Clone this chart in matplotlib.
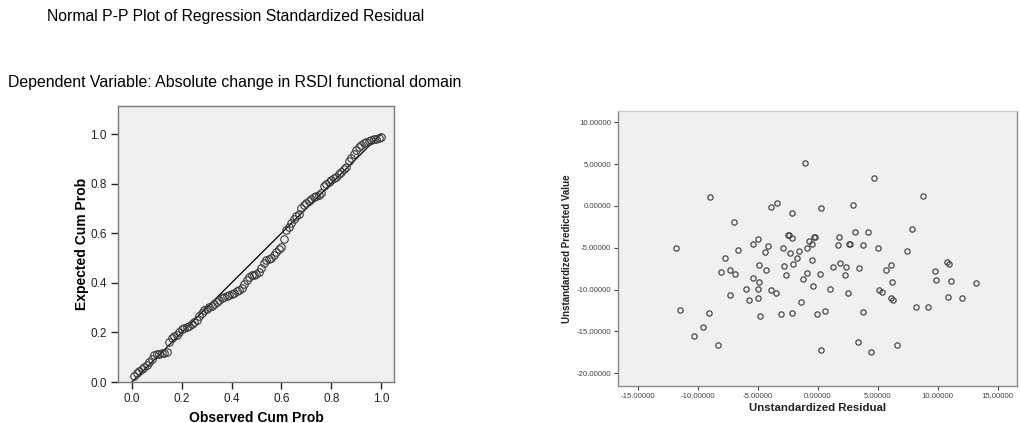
import numpy as np
import matplotlib
matplotlib.use("Agg")
import matplotlib.pyplot as plt

plt.rcParams["font.family"] = ["Liberation Sans", "DejaVu Sans"]

W, H = 1021, 423

# --- Normal P-P plot (observed vs expected cumulative probability) ---
pp_observed = [
    0.01, 0.02, 0.03, 0.04, 0.05, 0.06, 0.07, 0.08, 0.09, 0.10,
    0.11, 0.12, 0.13, 0.14, 0.15, 0.16, 0.17, 0.18, 0.19, 0.20,
    0.21, 0.22, 0.23, 0.24, 0.25, 0.26, 0.27, 0.28, 0.29, 0.30,
    0.31, 0.32, 0.33, 0.34, 0.35, 0.36, 0.37, 0.38, 0.39, 0.40,
    0.41, 0.42, 0.43, 0.44, 0.45, 0.46, 0.47, 0.48, 0.49, 0.50,
    0.51, 0.52, 0.53, 0.54, 0.55, 0.56, 0.57, 0.58, 0.59, 0.60,
    0.61, 0.62, 0.63, 0.64, 0.65, 0.66, 0.67, 0.68, 0.69, 0.70,
    0.71, 0.72, 0.73, 0.74, 0.75, 0.76, 0.77, 0.78, 0.79, 0.80,
    0.81, 0.82, 0.83, 0.84, 0.85, 0.86, 0.87, 0.88, 0.89, 0.90,
    0.91, 0.92, 0.93, 0.94, 0.95, 0.96, 0.97, 0.98, 0.99, 1.00,
]
pp_expected = [
    0.025, 0.035, 0.045, 0.052, 0.060, 0.068, 0.080, 0.092, 0.108, 0.112,
    0.114, 0.116, 0.118, 0.120, 0.162, 0.178, 0.185, 0.190, 0.200, 0.212,
    0.218, 0.220, 0.226, 0.232, 0.240, 0.250, 0.265, 0.278, 0.290, 0.296,
    0.302, 0.308, 0.314, 0.322, 0.330, 0.338, 0.342, 0.348, 0.352, 0.356,
    0.360, 0.366, 0.372, 0.380, 0.395, 0.410, 0.422, 0.430, 0.432, 0.434,
    0.445, 0.460, 0.478, 0.490, 0.496, 0.500, 0.512, 0.524, 0.536, 0.545,
    0.578, 0.612, 0.625, 0.640, 0.656, 0.668, 0.678, 0.700, 0.712, 0.722,
    0.730, 0.738, 0.746, 0.752, 0.756, 0.762, 0.790, 0.800, 0.808, 0.816,
    0.822, 0.828, 0.838, 0.847, 0.858, 0.868, 0.893, 0.905, 0.921, 0.935,
    0.948, 0.955, 0.962, 0.968, 0.972, 0.976, 0.978, 0.980, 0.984, 0.988,
]
pp_ticks = [0.0, 0.2, 0.4, 0.6, 0.8, 1.0]

# --- residuals vs predicted scatter ---
resid = [
    -1.06, 4.69, -8.97, 8.81, -3.36, -3.89, 0.25, 2.92, -2.11, -7.00,
    7.86, 3.14, 4.22, -2.50, -2.40, -2.11, -0.31, -0.25, -0.69, -0.44,
    -0.92, 1.78, 1.69, 2.61, 2.68, 3.75, 5.03, 7.42, -11.83, -5.00,
    -5.42, -4.14, -4.36, -6.67, -2.89, -2.31, -1.53, -1.69, -0.47, -2.03,
    -2.81, -7.72, -4.92, -4.31, -7.31, -8.08, -6.89, -5.36, -4.89, -2.67,
    -0.92, 0.19, -1.22, -0.39, 1.31, 1.86, 2.33, 2.28, 3.47, 6.08,
    5.69, 6.17, 9.78, 9.86, 10.75, 10.97, 11.06, 13.22, 10.89, 12.03,
    8.17, 9.17, 5.11, 5.39, 6.08, 6.31, 2.50, 1.00, -6.00, -5.00,
    -3.89, -3.47, -7.31, -5.69, -4.97, -1.42, -11.50, -9.08, -4.83, -3.06,
    -2.14, -0.03, 0.58, 3.78, -9.53, -10.33, -8.28, 0.25, 3.36, 4.44,
    6.58,
]
predicted = [
    5.08, 3.32, 1.04, 1.24, 0.40, -0.08, -0.20, 0.08, -0.84, -1.96,
    -2.80, -3.08, -3.16, -3.44, -3.52, -3.80, -3.68, -3.72, -4.24, -4.52,
    -5.00, -3.72, -4.64, -4.56, -4.60, -4.72, -5.00, -5.36, -5.08, -3.92,
    -4.52, -4.80, -5.56, -5.28, -5.00, -5.64, -5.44, -6.24, -6.48, -6.92,
    -7.12, -6.20, -7.04, -7.60, -7.60, -7.88, -8.08, -8.60, -9.04, -8.24,
    -8.04, -8.12, -8.72, -9.56, -7.24, -6.76, -7.28, -8.20, -7.44, -7.04,
    -7.64, -9.12, -7.76, -8.80, -6.72, -6.92, -9.00, -9.16, -10.84, -11.00,
    -12.08, -12.12, -10.08, -10.32, -11.04, -11.24, -10.40, -9.96, -9.96, -9.96,
    -10.04, -10.44, -10.64, -11.28, -11.00, -11.52, -12.40, -12.84, -13.12, -12.88,
    -12.80, -12.96, -12.52, -12.72, -14.44, -15.60, -16.64, -17.16, -16.28, -17.40,
    -16.56,
]
res_xticks = [-15, -10, -5, 0, 5, 10, 15]
res_yticks = [10, 5, 0, -5, -10, -15, -20]


def px_axes(fig, left, top, right, bottom):
    return fig.add_axes([left / W, 1 - bottom / H, (right - left) / W, (bottom - top) / H])


fig = plt.figure(figsize=(W / 100, H / 100), dpi=100)
fig.patch.set_facecolor("white")

fig.text(47 / W, 1 - 17 / H, "Normal P-P Plot of Regression Standardized Residual",
         fontsize=11.3, ha="left", va="center")
fig.text(8 / W, 1 - 83 / H, "Dependent Variable: Absolute change in RSDI functional domain",
         fontsize=11.4, ha="left", va="center")

bg = "#f0f0f0"
frame = "#7a7a7a"

# left: P-P plot
ax = px_axes(fig, 118, 106, 394, 382)
ax.set_facecolor(bg)
ax.plot([0, 1], [0, 1], color="black", lw=0.9, zorder=2)
ax.plot(pp_observed, pp_expected, "o", mfc="none", mec="#3a3a3a", mew=0.8, ms=5.4, zorder=3)
ax.set_xlim(-0.056, 1.052)
ax.set_ylim(0, 1.113)
ax.set_xticks(pp_ticks, labels=[f"{t:.1f}" for t in pp_ticks])
ax.set_yticks(pp_ticks, labels=[f"{t:.1f}" for t in pp_ticks])
ax.tick_params(labelsize=8.5, colors="#222222", length=5, width=1, direction="out", pad=3)
for s in ax.spines.values():
    s.set_color(frame)
    s.set_linewidth(1.0)
ax.set_xlabel("Observed Cum Prob", fontsize=10, fontweight="bold", labelpad=4)
ax.set_ylabel("Expected Cum Prob", fontsize=10, fontweight="bold", labelpad=1)

# right: residual scatter
ax2 = px_axes(fig, 618, 111, 1017, 386)
ax2.set_facecolor(bg)
ax2.plot(resid, predicted, "o", mfc="none", mec="#4a4a4a", mew=0.9, ms=3.8, zorder=3)
ax2.set_xlim(-16.64, 16.6)
ax2.set_ylim(-21.52, 11.35)
ax2.set_xticks(res_xticks, labels=[f"{t:.5f}" for t in res_xticks])
ax2.set_yticks(res_yticks, labels=[f"{t:.5f}" for t in res_yticks])
ax2.tick_params(labelsize=5.6, colors="#444444", length=3, width=0.8, pad=2)
for s in ax2.spines.values():
    s.set_color("#8a8a8a")
    s.set_linewidth(1.0)
ax2.spines["top"].set_color("#cccccc")
ax2.set_xlabel("Unstandardized Residual", fontsize=8.2, fontweight="bold", color="#222222", labelpad=2)
ax2.set_ylabel("Unstandardized Predicted Value", fontsize=7, fontweight="bold", color="#222222", labelpad=3)

fig.savefig("out.png", dpi=100)
